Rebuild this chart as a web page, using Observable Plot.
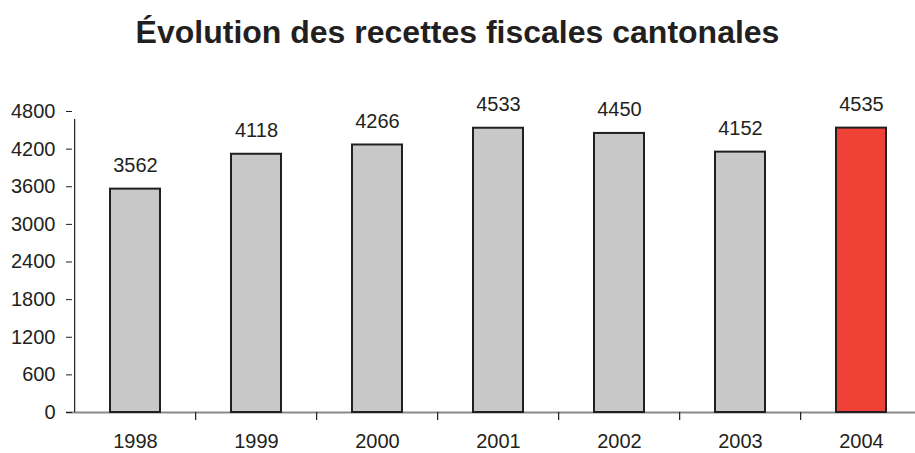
<!DOCTYPE html>
<html>
<head>
<meta charset="utf-8">
<script src="https://cdn.jsdelivr.net/npm/d3@7"></script>
<script src="https://cdn.jsdelivr.net/npm/@observablehq/plot@0.6"></script>
<style>
  html, body { margin: 0; padding: 0; background: #fff; }
  body { width: 915px; height: 453px; overflow: hidden; font-family: "Liberation Sans", Arial, sans-serif; }
  #title { height: 76px; box-sizing: border-box; padding-top: 14px; text-align: center; font-weight: bold; font-size: 32px; line-height: 36px; color: #231f20; }
  svg { display: block; }
</style>
</head>
<body>
<div id="title">Évolution des recettes fiscales cantonales</div>
<div id="chart"></div>
<script>
const years = ["1998", "1999", "2000", "2001", "2002", "2003", "2004"];
const recettes = [3562, 4118, 4266, 4533, 4450, 4152, 4535];
const yTicks = [0, 600, 1200, 1800, 2400, 3000, 3600, 4200, 4800];
const highlightYear = "2004";

const data = years.map((y, i) => ({year: y, value: recettes[i]}));

const xRange = [72, 924];
const step = (xRange[1] - xRange[0]) / years.length;

const plot = Plot.plot({
  width: 915,
  height: 377,
  marginLeft: 72,
  marginRight: 0,
  marginTop: 35,
  marginBottom: 41,
  style: {fontFamily: "'Liberation Sans', Arial, sans-serif", color: "#231f20", background: "#fff", fontSize: "20px"},
  x: {type: "band", domain: years, range: xRange, paddingInner: 0.59, paddingOuter: 0.295},
  y: {type: "linear", domain: [0, 4800]},
  marks: [
    Plot.ruleY([0], {stroke: "#8a8a8a", strokeWidth: 2, insetLeft: -6}),
    Plot.barY(data, {
      x: "year", y: "value",
      fill: d => d.year === highlightYear ? "#ef4136" : "#c8c8c8",
      stroke: "#231f20", strokeWidth: 2
    }),
    Plot.ruleX(years.slice(1), {x: d => d, dx: -step / 2, y1: 0, y2: 0, insetBottom: -8, stroke: "#231f20", strokeWidth: 1.2}),
    Plot.text(data, {x: "year", y: "value", text: d => String(d.value), lineAnchor: "bottom", dy: -17, fontSize: 20, fill: "#231f20"}),
    Plot.axisY({ticks: yTicks, tickSize: 6, tickPadding: 11, fontSize: 20, label: null, tickFormat: d => String(d)}),
    Plot.axisX({tickSize: 0, tickPadding: 21, fontSize: 20, label: null}),
    Plot.ruleX(years.slice(0, 1), {x: d => d, dx: -step / 2, y1: 0, y2: 4800, insetBottom: -8, stroke: "#231f20", strokeWidth: 1.2})
  ]
});
document.getElementById("chart").appendChild(plot);
</script>
</body>
</html>
